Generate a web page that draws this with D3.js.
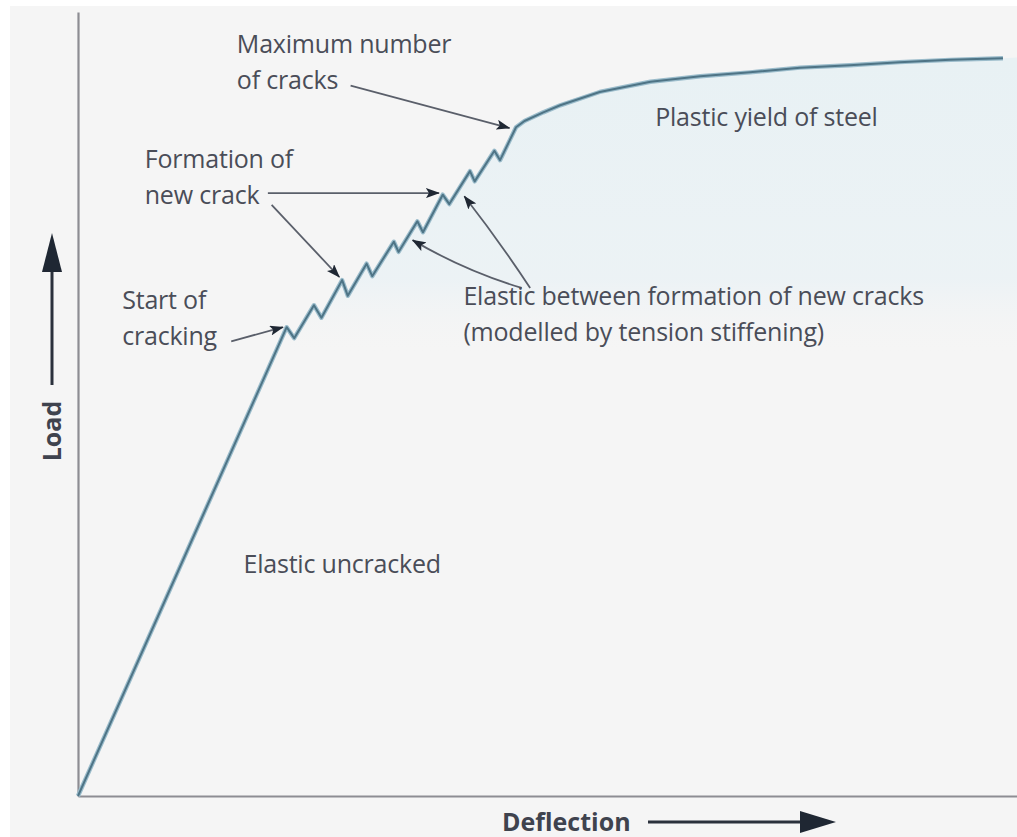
<!DOCTYPE html>
<html>
<head>
<meta charset="utf-8">
<script src="https://cdn.jsdelivr.net/npm/d3@7"></script>
<style>
  html, body { margin: 0; padding: 0; background: #ffffff; }
  svg { display: block; }
</style>
</head>
<body>
<div id="outer"></div>
<script>
////////// DATA //////////
// load-deflection curve (arbitrary units)
const deflection = [0, 22.2, 23.0, 25.1, 25.9, 28.1, 28.7, 30.7, 31.3, 33.6, 34.1, 36.1, 36.7, 38.8, 39.5,
  41.7, 42.2, 44.3, 44.9, 46.6, 47.5, 49.5, 51.3, 55.5, 60.9, 66.2, 71.5, 76.8, 82.1, 87.4, 92.8, 98.4];
const load = [0, 59.8, 58.4, 62.6, 61.0, 65.8, 63.8, 67.9, 66.3, 70.7, 69.4, 73.3, 71.9, 76.7, 75.5,
  79.7, 78.4, 82.3, 81.1, 85.3, 86.1, 87.2, 88.1, 89.8, 91.1, 91.8, 92.3, 92.9, 93.2, 93.6, 93.9, 94.1];

// text labels (anchor = left end of first baseline)
const labelLines = [
  ['Maximum number', 'of cracks'],
  ['Formation of', 'new crack'],
  ['Start of', 'cracking'],
  ['Plastic yield of steel'],
  ['Elastic between formation of new cracks', '(modelled by tension stiffening)'],
  ['Elastic uncracked']
];
const labelX = [16.9, 7.1, 4.7, 61.4, 41.0, 17.6];
const labelY = [94.8, 80.1, 62.1, 85.5, 62.6, 28.4];

// annotation arrows [from deflection, from load, to deflection, to load]
const arrows = [
  [29.0, 90.6, 45.9, 85.2],
  [20.2, 76.9, 38.4, 76.9],
  [20.6, 75.4, 27.8, 66.2],
  [16.3, 58.0, 21.8, 59.8],
  [47.2, 64.8, 35.6, 70.9],
  [48.1, 64.8, 41.1, 76.5]
];
const arrowBend = [0, 0, 0, 0, -0.06, 0.02];

const xTitle = 'Deflection';
const yTitle = 'Load';

////////// SIZING //////////
const width = 1017, height = 837;
const margin = {top: 12, left: 78, right: -1, bottom: 41};
const fontFamily = '"Open Sans", "DejaVu Sans", sans-serif';
const textColor = '#4a4d58';
const arrowColor = '#1f2733';

const x = d3.scaleLinear().domain([0, 100]).range([margin.left, width - margin.right]);
const y = d3.scaleLinear().domain([0, 100]).range([height - margin.bottom, margin.top]);

const points = deflection.map((d, i) => ({d: d, l: load[i]}));

////////// RENDER //////////
const svg = d3.select('#outer').append('svg')
  .attr('width', width)
  .attr('height', height);

const defs = svg.append('defs');
const grad = defs.append('linearGradient')
  .attr('id', 'shade')
  .attr('x1', 0).attr('y1', 0).attr('x2', 0).attr('y2', 1);
grad.append('stop').attr('offset', '0%').attr('stop-color', '#e8f1f4').attr('stop-opacity', 1);
grad.append('stop').attr('offset', '75%').attr('stop-color', '#ebf2f5').attr('stop-opacity', 0.9);
grad.append('stop').attr('offset', '100%').attr('stop-color', '#f4f4f4').attr('stop-opacity', 0);

defs.append('marker')
  .attr('id', 'head')
  .attr('viewBox', '0 0 14 10')
  .attr('refX', 13).attr('refY', 5)
  .attr('markerWidth', 14).attr('markerHeight', 10)
  .attr('markerUnits', 'userSpaceOnUse')
  .attr('orient', 'auto')
  .append('path')
  .attr('d', 'M0,0 L14,5 L0,10 L3,5 Z')
  .attr('fill', arrowColor);

// paper background
svg.append('rect')
  .attr('x', 10).attr('y', 6)
  .attr('width', width - 10).attr('height', height - 6)
  .attr('fill', '#f5f5f5');

// shaded region right of the cracked branch
svg.append('path')
  .attr('fill', 'url(#shade)')
  .attr('d', d3.area()
    .x(p => x(p.d))
    .y0(y(56.5))
    .y1(p => y(p.l))(points.slice(1).concat([{d: 100, l: 94.2}])));

// axes (no ticks)
svg.append('g')
  .attr('transform', `translate(${x(0)},0)`)
  .call(d3.axisLeft(y).tickValues([]).tickSizeOuter(0))
  .select('.domain').attr('stroke', '#8d8d93').attr('stroke-width', 2.2);

svg.append('g')
  .attr('transform', `translate(0,${y(0)})`)
  .call(d3.axisBottom(x).tickValues([]).tickSizeOuter(0))
  .select('.domain').attr('stroke', '#8d8d93').attr('stroke-width', 2.2);

// curve
const line = d3.line().x(p => x(p.d)).y(p => y(p.l));
svg.append('path')
  .datum(points)
  .attr('fill', 'none')
  .attr('stroke', '#9bbccb')
  .attr('stroke-width', 4.4)
  .attr('stroke-linejoin', 'round')
  .attr('d', line);
svg.append('path')
  .datum(points)
  .attr('fill', 'none')
  .attr('stroke', '#4e7486')
  .attr('stroke-width', 2)
  .attr('stroke-linejoin', 'round')
  .attr('d', line);

// annotation arrows
svg.append('g').selectAll('path')
  .data(arrows)
  .join('path')
  .attr('fill', 'none')
  .attr('stroke', '#5a5f6a')
  .attr('stroke-width', 1.8)
  .attr('marker-end', 'url(#head)')
  .attr('d', (a, i) => {
    const x0 = x(a[0]), y0 = y(a[1]), x1 = x(a[2]), y1 = y(a[3]);
    const k = arrowBend[i];
    const cx = (x0 + x1) / 2 - (y1 - y0) * k, cy = (y0 + y1) / 2 + (x1 - x0) * k;
    return `M${x0},${y0} Q${cx},${cy} ${x1},${y1}`;
  });

// labels
const labels = svg.append('g')
  .attr('font-family', fontFamily)
  .attr('font-size', 25)
  .attr('letter-spacing', -0.2)
  .attr('fill', textColor);
labels.selectAll('text')
  .data(labelLines)
  .join('text')
  .attr('x', (t, i) => x(labelX[i]))
  .attr('y', (t, i) => y(labelY[i]))
  .selectAll('tspan')
  .data(t => t)
  .join('tspan')
  .attr('x', function() { return this.parentNode.getAttribute('x'); })
  .attr('dy', (s, j) => j === 0 ? 0 : 36)
  .text(s => s);

// axis titles with arrows
const titles = svg.append('g')
  .attr('font-family', fontFamily)
  .attr('font-weight', 'bold')
  .attr('font-size', 25)
  .attr('fill', '#3f434e');

titles.append('text')
  .attr('x', 502).attr('y', 831)
  .text(xTitle);
titles.append('line')
  .attr('x1', 648).attr('y1', 822).attr('x2', 805).attr('y2', 822)
  .attr('stroke', '#2b313c').attr('stroke-width', 3);
titles.append('path')
  .attr('d', 'M800,811 L836,822 L800,833 Z')
  .attr('fill', arrowColor);

titles.append('text')
  .attr('transform', 'translate(61,431) rotate(-90)')
  .attr('text-anchor', 'middle')
  .text(yTitle);
titles.append('line')
  .attr('x1', 52).attr('y1', 385).attr('x2', 52).attr('y2', 265)
  .attr('stroke', '#2b313c').attr('stroke-width', 3);
titles.append('path')
  .attr('d', 'M42,272 L52,233 L62,272 Z')
  .attr('fill', arrowColor);
</script>
</body>
</html>
